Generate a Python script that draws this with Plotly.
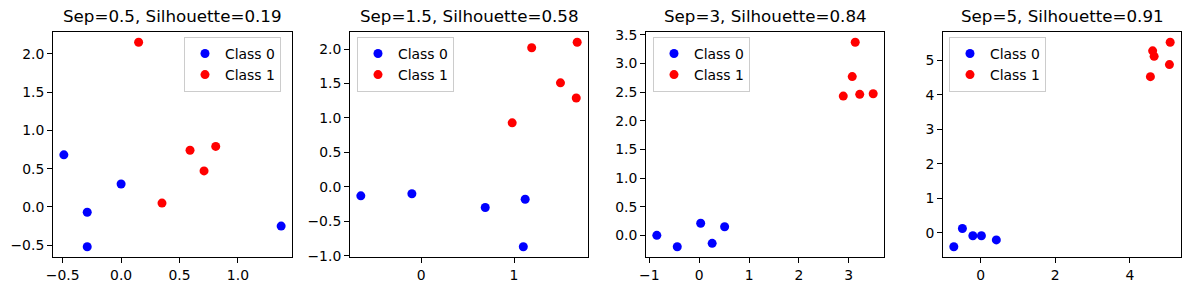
import plotly.graph_objects as go

# ---- data ----
titles = ["Sep=0.5, Silhouette=0.19", "Sep=1.5, Silhouette=0.58",
          "Sep=3, Silhouette=0.84", "Sep=5, Silhouette=0.91"]

p1_c0_x = [-0.49, 0.00, -0.29, -0.29, 1.37]
p1_c0_y = [0.68, 0.30, -0.07, -0.52, -0.25]
p1_c1_x = [0.15, 0.35, 0.59, 0.81, 0.71]
p1_c1_y = [2.15, 0.05, 0.74, 0.79, 0.47]

p2_c0_x = [-0.65, -0.10, 0.69, 1.12, 1.10]
p2_c0_y = [-0.13, -0.10, -0.30, -0.18, -0.87]
p2_c1_x = [0.98, 1.19, 1.50, 1.68, 1.67]
p2_c1_y = [0.93, 2.02, 1.51, 2.10, 1.29]

p3_c0_x = [-0.85, -0.44, 0.03, 0.26, 0.51]
p3_c0_y = [0.00, -0.20, 0.21, -0.14, 0.15]
p3_c1_x = [3.13, 3.07, 2.89, 3.22, 3.49]
p3_c1_y = [3.37, 2.77, 2.43, 2.46, 2.47]

p4_c0_x = [-0.72, -0.49, -0.21, 0.02, 0.42]
p4_c0_y = [-0.41, 0.12, -0.09, -0.09, -0.21]
p4_c1_x = [4.61, 4.65, 4.55, 5.06, 5.08]
p4_c1_y = [5.28, 5.12, 4.53, 4.88, 5.53]

p1_xticks = [-0.5, 0.0, 0.5, 1.0]
p1_xlabels = ["\u22120.5", "0.0", "0.5", "1.0"]
p1_yticks = [-0.5, 0.0, 0.5, 1.0, 1.5, 2.0]
p1_ylabels = ["\u22120.5", "0.0", "0.5", "1.0", "1.5", "2.0"]
p2_xticks = [0, 1]
p2_xlabels = ["0", "1"]
p2_yticks = [-1.0, -0.5, 0.0, 0.5, 1.0, 1.5, 2.0]
p2_ylabels = ["\u22121.0", "\u22120.5", "0.0", "0.5", "1.0", "1.5", "2.0"]
p3_xticks = [-1, 0, 1, 2, 3]
p3_xlabels = ["\u22121", "0", "1", "2", "3"]
p3_yticks = [0.0, 0.5, 1.0, 1.5, 2.0, 2.5, 3.0, 3.5]
p3_ylabels = ["0.0", "0.5", "1.0", "1.5", "2.0", "2.5", "3.0", "3.5"]
p4_xticks = [0, 2, 4]
p4_xlabels = ["0", "2", "4"]
p4_yticks = [0, 1, 2, 3, 4, 5]
p4_ylabels = ["0", "1", "2", "3", "4", "5"]

panels = [
    (p1_c0_x, p1_c0_y, p1_c1_x, p1_c1_y, p1_xticks, p1_xlabels, p1_yticks, p1_ylabels),
    (p2_c0_x, p2_c0_y, p2_c1_x, p2_c1_y, p2_xticks, p2_xlabels, p2_yticks, p2_ylabels),
    (p3_c0_x, p3_c0_y, p3_c1_x, p3_c1_y, p3_xticks, p3_xlabels, p3_yticks, p3_ylabels),
    (p4_c0_x, p4_c0_y, p4_c1_x, p4_c1_y, p4_xticks, p4_xlabels, p4_yticks, p4_ylabels),
]

# ---- layout geometry (pixels of a 1189x290 canvas) ----
W, H = 1189, 290
x_px = [(53, 292), (350, 588), (646, 884), (943, 1181)]
y_top, y_bot = 32, 257
legend_left = [184, 357, 653, 949]
legend_top = 37

FONT = "DejaVu Sans"

def pad_range(vals):
    lo, hi = min(vals), max(vals)
    s = hi - lo
    return [lo - 0.05 * s, hi + 0.05 * s]

fig = go.Figure()
layout = dict(
    width=W, height=H, margin=dict(l=0, r=0, t=0, b=0, autoexpand=False),
    paper_bgcolor="white", plot_bgcolor="white",
    font=dict(family=FONT, size=13.9, color="black"),
    annotations=[],
)

for i, (c0x, c0y, c1x, c1y, xt, xl, yt, yl) in enumerate(panels):
    n = "" if i == 0 else str(i + 1)
    lg = "legend" if i == 0 else f"legend{i+1}"
    fig.add_trace(go.Scatter(x=c0x, y=c0y, mode="markers", name="Class 0",
                             marker=dict(color="blue", size=9, line=dict(width=0)),
                             xaxis="x" + n, yaxis="y" + n, legend=lg))
    fig.add_trace(go.Scatter(x=c1x, y=c1y, mode="markers", name="Class 1",
                             marker=dict(color="red", size=9, line=dict(width=0)),
                             xaxis="x" + n, yaxis="y" + n, legend=lg))
    axcommon = dict(showline=True, linecolor="black", linewidth=1, mirror=True,
                    ticks="outside", ticklen=5, tickwidth=1, tickcolor="black",
                    showgrid=False, zeroline=False, automargin=False,
                    tickfont=dict(family=FONT, size=13.9, color="black"))
    layout["xaxis" + n] = dict(domain=[x_px[i][0] / W, x_px[i][1] / W],
                               anchor="y" + n, range=pad_range(c0x + c1x),
                               tickvals=xt, ticktext=xl, **axcommon)
    layout["yaxis" + n] = dict(domain=[1 - y_bot / H, 1 - y_top / H],
                               anchor="x" + n, range=pad_range(c0y + c1y),
                               tickvals=yt, ticktext=yl, **axcommon)
    layout[lg] = dict(x=legend_left[i] / W, y=1 - legend_top / H,
                      xref="paper", yref="paper", xanchor="left", yanchor="top",
                      bgcolor="rgba(255,255,255,0.8)", bordercolor="#cccccc",
                      borderwidth=1, font=dict(family=FONT, size=13.9, color="black"))
    layout["annotations"].append(dict(
        text=titles[i], x=(x_px[i][0] + x_px[i][1]) / 2 / W, y=1 - (y_top - 4) / H,
        xref="paper", yref="paper", xanchor="center", yanchor="bottom",
        showarrow=False, font=dict(family=FONT, size=16.7, color="black")))

fig.update_layout(**layout)
fig.write_html("out.html", config={"displayModeBar": False},
               post_script="document.body.style.margin='0';")
